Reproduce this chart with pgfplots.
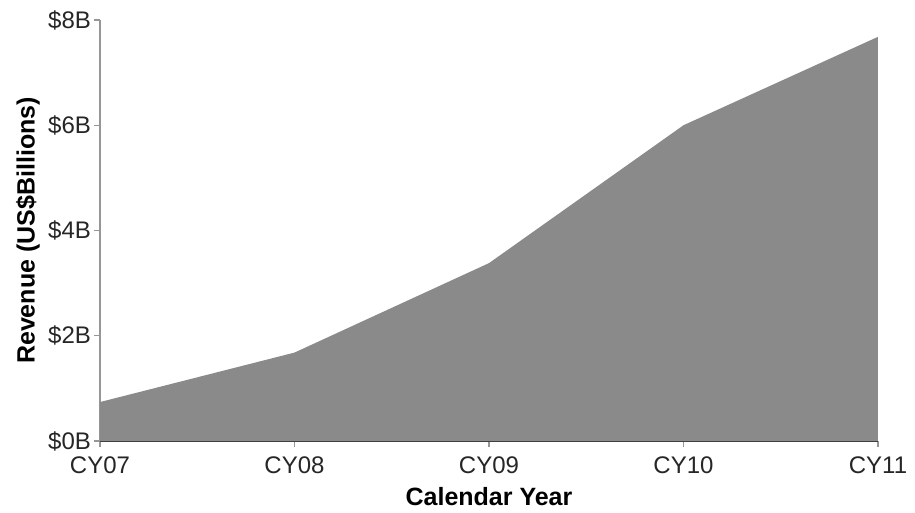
\documentclass[border=0pt]{standalone}
\usepackage{pgfplots}
\pgfplotsset{compat=1.18}
\usepackage{fontspec}
\setmainfont{Liberation Sans}
\definecolor{areagray}{RGB}{138,138,138}
\definecolor{axisgray}{RGB}{150,150,150}
\begin{document}
\begin{tikzpicture}[x=1pt,y=1pt]
\useasboundingbox (-50,-36) rectangle (407.5,220.5);
\begin{axis}[
    at={(0,0)}, anchor=origin,
    scale only axis,
    width=389pt, height=210.5pt,
    xmin=0, xmax=4, ymin=0, ymax=8,
    axis lines*=left,
    xtick={0,1,2,3,4},
    xticklabels={CY07,CY08,CY09,CY10,CY11},
    ytick={0,2,4,6,8},
    yticklabels={\$0B,\$2B,\$4B,\$6B,\$8B},
    tick align=outside,
    major tick length=3pt,
    tick style={axisgray, line width=0.6pt},
    x axis line style={black!75, line width=0.7pt},
    y axis line style={axisgray, line width=0.7pt},
    tick label style={font=\fontsize{12}{14}\selectfont, text=black!85},
    xticklabel style={yshift=-1.5pt},
    yticklabel style={xshift=2pt},
    xlabel={\textbf{Calendar Year}},
    ylabel={\textbf{Revenue (US\$Billions)}},
    label style={font=\fontsize{12.5}{15}\selectfont},
    xlabel style={at={(axis description cs:0.5,0)}, anchor=center, yshift=-28pt},
    ylabel style={at={(axis description cs:-0.0925,0.5)}, anchor=center},
]
\addplot[draw=none, fill=areagray] coordinates {
    (0,0.74) (1,1.68) (2,3.38) (3,6.0) (4,7.68)
} \closedcycle;
\end{axis}
\end{tikzpicture}
\end{document}
